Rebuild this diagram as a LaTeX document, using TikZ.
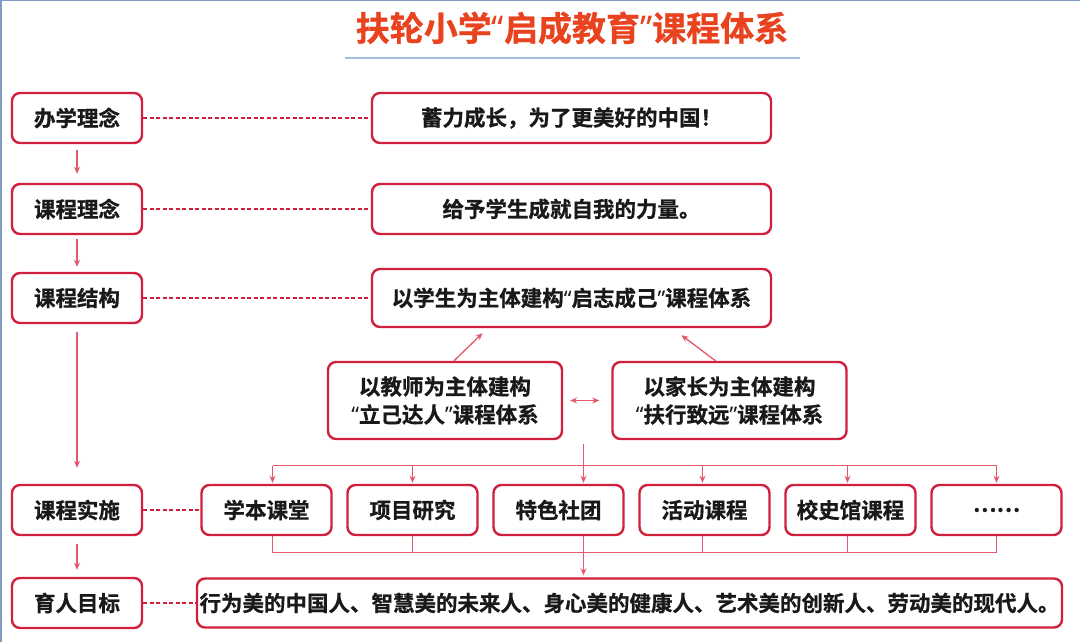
\documentclass[tikz,border=0pt]{standalone}
\usepackage{fontspec}
\setmainfont{Noto Sans CJK SC}[BoldFont={Noto Sans CJK SC Bold},BoldFeatures={FakeBold=0.8}]
\newfontfamily\quotefont{Noto Sans}[BoldFeatures={FakeBold=0.8}]
\newcommand{\oq}{{\quotefont “}}
\newcommand{\cq}{{\quotefont ”}}
\usetikzlibrary{positioning,arrows.meta}
\definecolor{boxred}{RGB}{208,32,60}
\definecolor{linkred}{RGB}{226,88,108}
\definecolor{titlered}{RGB}{232,66,30}
\definecolor{frameblue}{RGB}{128,156,192}
\definecolor{ruleblue}{RGB}{164,186,222}

\begin{document}
\begin{tikzpicture}[x=1pt,y=-1pt,node distance=2cm,on grid,
    >={Stealth[length=7pt,width=6pt]},
    box/.style={draw=boxred,line width=2.4pt,rounded corners=8pt,fill=white,
      text=black!90,font=\bfseries\fontsize{21.5}{28}\selectfont,align=center,inner sep=0pt},
    side/.style={box,minimum width=130pt,minimum height=50pt},
    wide/.style={box,minimum width=399pt,minimum height=50pt},
    half/.style={box,minimum width=234pt,minimum height=77pt},
    item/.style={box,minimum width=130pt,minimum height=50pt},
    link/.style={->,linkred,line width=1.3pt},
    bus/.style={linkred,line width=1.3pt},
    tie/.style={boxred,line width=1.2pt,dash pattern=on 4pt off 2.5pt}]
    \useasboundingbox (0,0) rectangle (1080,642);
    \fill[white] (0,0) rectangle (1080,642);
    \draw[frameblue,line width=1.5pt] (0.75,642) -- (0.75,0.75) -- (1080,0.75);

    \node (title) [text=titlered,font=\bfseries\fontsize{34}{34}\selectfont] at (572,28) {扶轮小学\oq 启成教育\cq 课程体系};
    \draw[ruleblue,line width=1.5pt] (345,58) -- (800,58);

    \node[side] (l_1) at (77,118) {办学理念};
    \node[side] (l_2) [below=91pt of l_1] {课程理念};
    \node[side] (l_3) [below=89pt of l_2] {课程结构};
    \node[side] (l_4) [below=212pt of l_3] {课程实施};
    \node[side] (l_5) [below=93pt of l_4] {育人目标};
    \node[wide] (r_1) [right=494.5pt of l_1] {蓄力成长，为了更美好的中国！};
    \node[wide] (r_2) [right=494.5pt of l_2] {给予学生成就自我的力量。};
    \node[wide, minimum height=58pt] (r_3) [right=494.5pt of l_3] {以学生为主体建构\oq 启志成己\cq 课程体系};
    \node[half] (s_2) at (445,400.5) {以教师为主体建构\\\oq 立己达人\cq 课程体系};
    \node[half] (s_3) [right=284.5pt of s_2] {以家长为主体建构\\\oq 扶行致远\cq 课程体系};
    \node[item] (c_1) [right=189.5pt of l_4] {学本课堂};
    \node[item] (c_2) [right=146pt of c_1] {项目研究};
    \node[item] (c_3) [right=146pt of c_2] {特色社团};
    \node[item] (c_4) [right=146pt of c_3] {活动课程};
    \node[item] (c_5) [right=146pt of c_4] {校史馆课程};
    \node[item] (c_6) [right=146pt of c_5] {……};
    \node[box, minimum width=865pt, minimum height=49pt] (g_1) [right=552.5pt of l_5] {行为美的中国人、智慧美的未来人、身心美的健康人、艺术美的创新人、劳动美的现代人。};

    \path[tie]
          (l_1) edge (r_1)
          (l_2) edge (r_2)
          (l_3) edge (r_3)
          (l_4) edge (c_1)
          (l_5) edge (g_1);
    \path[link]
          (l_1) edge [shorten <=6pt, shorten >=9pt] (l_2)
          (l_2) edge [shorten <=4pt, shorten >=5pt] (l_3)
          (l_3) edge [shorten <=8pt, shorten >=16pt] (l_4)
          (l_4) edge [shorten <=8pt, shorten >=7pt] (l_5)
          (s_2) edge [<->, shorten <=7pt, shorten >=12pt] (s_3);
    \draw[link] ([xshift=9pt]s_2.north) -- ([xshift=-89pt,yshift=-5pt]r_3.south);
    \draw[link] ([xshift=-14pt]s_3.north) -- ([xshift=110pt,yshift=-7pt]r_3.south);

    \draw[bus] ([xshift=6pt,yshift=18pt]c_1.north) -- ([yshift=18pt]c_6.north);
    \draw[link, shorten <=4pt, shorten >=1pt] ([xshift=25pt]c_3.north |- s_2.south) -- ([xshift=25pt]c_3.north);
    \draw[link, shorten >=1pt] ([xshift=6pt,yshift=18pt]c_1.north) -- ([xshift=6pt]c_1.north);
    \draw[link, shorten >=1pt] ([yshift=18pt]c_2.north) -- (c_2.north);
    \draw[link, shorten >=1pt] ([xshift=-2pt,yshift=18pt]c_4.north) -- ([xshift=-2pt]c_4.north);
    \draw[link, shorten >=1pt] ([xshift=-3pt,yshift=18pt]c_5.north) -- ([xshift=-3pt]c_5.north);
    \draw[link, shorten >=1pt] ([yshift=18pt]c_6.north) -- (c_6.north);

    \draw[bus] ([xshift=6pt]c_1.south) |- ([yshift=-16pt]c_6.south) -- (c_6.south);
    \draw[bus] (c_2.south) -- ([yshift=-16pt]c_2.south);
    \draw[bus] ([xshift=-2pt]c_4.south) -- ([xshift=-2pt,yshift=-16pt]c_4.south);
    \draw[bus] ([xshift=-3pt]c_5.south) -- ([xshift=-3pt,yshift=-16pt]c_5.south);
    \draw[link, shorten >=2pt] ([xshift=25pt]c_3.south) -- ([xshift=25pt]c_3.south |- g_1.north);
\end{tikzpicture}
\end{document}
